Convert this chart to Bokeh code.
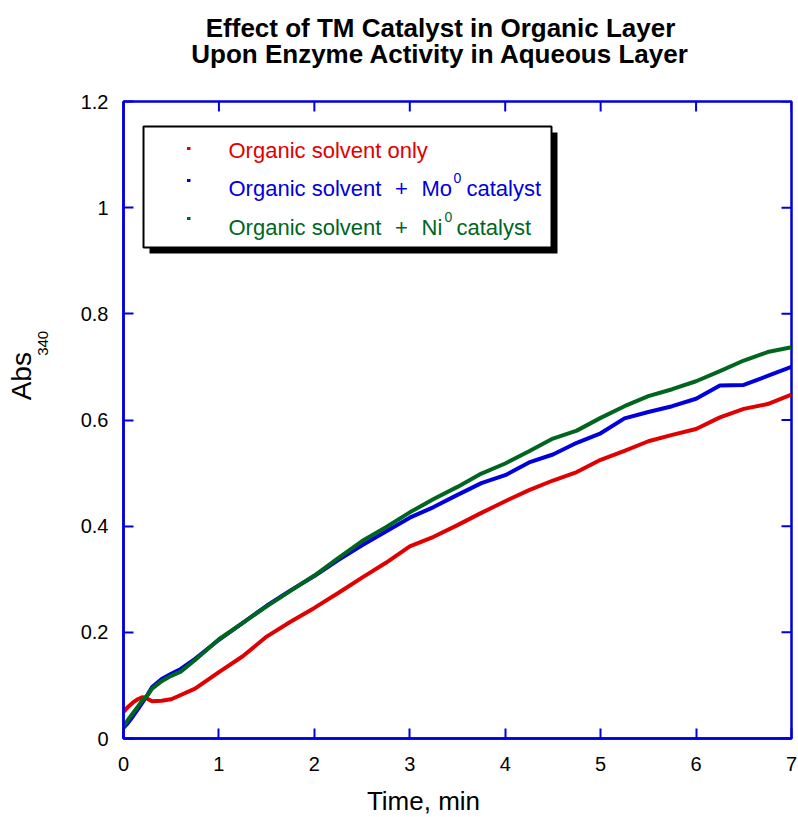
from math import pi
from bokeh.plotting import figure
from bokeh.layouts import column, row
from bokeh.models import (Range1d, LinearAxis, FixedTicker, NumeralTickFormatter,
                          Label, BoxAnnotation)
from bokeh.embed import file_html
from bokeh.resources import INLINE

# ---------------- data ----------------
time_min = [0, 0.05, 0.1, 0.15, 0.2, 0.25, 0.3, 0.4, 0.5, 0.6, 0.75, 1.0, 1.25, 1.5,
            1.75, 2.0, 2.25, 2.5, 2.75, 3.0, 3.25, 3.5, 3.75, 4.0, 4.25, 4.5, 4.75,
            5.0, 5.25, 5.5, 5.75, 6.0, 6.25, 6.5, 6.75, 7.0]
abs_organic_only = [0.050, 0.060, 0.068, 0.074, 0.078, 0.075, 0.070, 0.071, 0.074, 0.082,
                    0.094, 0.125, 0.155, 0.192, 0.220, 0.246, 0.274, 0.303, 0.331, 0.362,
                    0.380, 0.402, 0.425, 0.447, 0.468, 0.486, 0.502, 0.525, 0.542, 0.560,
                    0.572, 0.583, 0.605, 0.621, 0.630, 0.648]
abs_mo_catalyst = [0.020, 0.030, 0.042, 0.055, 0.068, 0.082, 0.097, 0.112, 0.122, 0.131,
                   0.150, 0.186, 0.218, 0.250, 0.279, 0.306, 0.336, 0.364, 0.390, 0.416,
                   0.436, 0.459, 0.481, 0.496, 0.520, 0.535, 0.557, 0.575, 0.603, 0.615,
                   0.626, 0.640, 0.665, 0.666, 0.683, 0.700]
abs_ni_catalyst = [0.022, 0.036, 0.048, 0.060, 0.072, 0.081, 0.094, 0.108, 0.118, 0.126,
                   0.148, 0.187, 0.218, 0.249, 0.278, 0.307, 0.340, 0.372, 0.398, 0.426,
                   0.451, 0.474, 0.499, 0.518, 0.541, 0.565, 0.580, 0.604, 0.626, 0.645,
                   0.658, 0.673, 0.692, 0.712, 0.728, 0.737]
x_ticks = [0, 1, 2, 3, 4, 5, 6, 7]
y_ticks = [0, 0.2, 0.4, 0.6, 0.8, 1.0, 1.2]
x_range = (0, 7)
y_range = (0, 1.2)
title_lines = ["Effect of TM Catalyst in Organic Layer", "Upon Enzyme Activity in Aqueous Layer"]
x_label = "Time, min"
y_label, y_label_sub = "Abs", "340"

# ---------------- style ----------------
RED, BLUE, GREEN = "#E00000", "#0000DD", "#00661F"
AXIS_BLUE = "#0000DD"
FONT = "Liberation Sans"

PAGE_W, PAGE_H = 798, 817
FL, FR, FT, FB = 123, 791, 101, 738      # plot frame edges on the page
TOP_H = 85                               # strip above the main figure (title)
LEFT_W = 60                              # strip left of the main figure (y label)
BOT_Y = 783                              # page y where the bottom strip starts
MAIN_W = PAGE_W - LEFT_W
MAIN_H = BOT_Y - TOP_H


def text_strip(width, height, page_x0, page_y0):
    """A blank svg figure whose data coordinates are page pixels (y negated)."""
    f = figure(width=width, height=height, output_backend="svg", toolbar_location=None,
               x_range=Range1d(page_x0, page_x0 + width),
               y_range=Range1d(-(page_y0 + height), -page_y0),
               x_axis_location=None, y_axis_location=None, min_border=0)
    f.outline_line_color = None
    f.grid.grid_line_color = None
    return f


def put(f, txt, px, py, size, color="black", align="center", style="normal", angle=0):
    f.add_layout(Label(x=px, y=-py, text=txt, text_font=FONT, text_font_size=size,
                       text_color=color, text_align=align, text_baseline="middle",
                       text_font_style=style, angle=angle))


# ---------------- title strip ----------------
top_fig = text_strip(PAGE_W, TOP_H, 0, 0)
put(top_fig, title_lines[0], 440, 27, "26px", style="bold")
put(top_fig, title_lines[1], 440, 53, "26px", style="bold")

# ---------------- y label strip ----------------
left_fig = text_strip(LEFT_W, MAIN_H, 0, TOP_H)
put(left_fig, y_label, 21, 386, "28px", angle=pi / 2)
put(left_fig, y_label_sub, 42, 350, "15px", angle=pi / 2)

# ---------------- x label strip ----------------
bot_fig = text_strip(PAGE_W, PAGE_H - BOT_Y, 0, BOT_Y)
put(bot_fig, x_label, 423, 800, "26px")

# ---------------- main plot ----------------
p = figure(width=MAIN_W, height=MAIN_H, output_backend="svg", toolbar_location=None,
           x_range=Range1d(*x_range), y_range=Range1d(*y_range),
           x_axis_location=None, y_axis_location=None,
           min_border_left=FL - LEFT_W, min_border_right=PAGE_W - FR,
           min_border_top=FT - TOP_H, min_border_bottom=BOT_Y - FB)
p.outline_line_color = AXIS_BLUE
p.outline_line_width = 2.5
p.outline_line_alpha = 1
p.grid.grid_line_color = None


def style_axis(ax, standoff):
    ax.axis_line_color = AXIS_BLUE
    ax.axis_line_width = 2.5
    ax.major_tick_line_color = AXIS_BLUE
    ax.major_tick_line_width = 2
    ax.major_tick_in = 10
    ax.major_tick_out = 0
    ax.minor_tick_line_color = None
    ax.formatter = NumeralTickFormatter(format="0.[0]")
    ax.major_label_text_font = FONT
    ax.major_label_text_font_size = "20px"
    ax.major_label_text_color = "black"
    ax.major_label_standoff = standoff


bottom = LinearAxis(ticker=FixedTicker(ticks=x_ticks))
style_axis(bottom, 18)
p.add_layout(bottom, "below")

left = LinearAxis(ticker=FixedTicker(ticks=y_ticks))
style_axis(left, 15)
p.add_layout(left, "left")

# inward ticks on the top and right frame edges
tick_len_y = 10 / (FB - FT) * (y_range[1] - y_range[0])
tick_len_x = 10 / (FR - FL) * (x_range[1] - x_range[0])
p.segment(x0=x_ticks, y0=[y_range[1]] * len(x_ticks), x1=x_ticks,
          y1=[y_range[1] - tick_len_y] * len(x_ticks), line_color=AXIS_BLUE, line_width=2)
p.segment(x0=[x_range[1]] * len(y_ticks), y0=y_ticks,
          x1=[x_range[1] - tick_len_x] * len(y_ticks), y1=y_ticks,
          line_color=AXIS_BLUE, line_width=2)

# data curves
for ys, c in [(abs_organic_only, RED), (abs_mo_catalyst, BLUE), (abs_ni_catalyst, GREEN)]:
    p.line(time_min, ys, line_color=c, line_width=4)


def dx(px):
    return x_range[0] + (px - FL) / (FR - FL) * (x_range[1] - x_range[0])


def dy(py):
    return y_range[0] + (FB - py) / (FB - FT) * (y_range[1] - y_range[0])


# legend box with drop shadow
p.add_layout(BoxAnnotation(left=dx(149), right=dx(557), top=dy(132), bottom=dy(253),
                           fill_color="black", fill_alpha=1, line_color=None))
p.add_layout(BoxAnnotation(left=dx(143), right=dx(551), top=dy(126), bottom=dy(247),
                           fill_color="white", fill_alpha=1, line_color="black",
                           line_alpha=1, line_width=2))

legend_colors = [RED, BLUE, GREEN]
marker_y = [148, 180, 218]
text_y = [150, 188, 227]
for c, my in zip(legend_colors, marker_y):
    p.add_layout(BoxAnnotation(left=dx(186.5), right=dx(190), top=dy(my - 1.5),
                               bottom=dy(my + 1.5), fill_color=c, fill_alpha=1,
                               line_color=None))


def label(txt, px, py, size, color, align="left"):
    p.add_layout(Label(x=dx(px), y=dy(py), text=txt, text_font=FONT, text_font_size=size,
                       text_color=color, text_align=align, text_baseline="middle"))


label("Organic solvent only", 228, text_y[0], "22px", RED)
label("Organic solvent", 228, text_y[1], "22px", BLUE)
label("+", 401, text_y[1], "22px", BLUE, align="center")
label("Mo", 421, text_y[1], "22px", BLUE)
label("0", 453, text_y[1] - 11, "14px", BLUE)
label("catalyst", 466, text_y[1], "22px", BLUE)
label("Organic solvent", 228, text_y[2], "22px", GREEN)
label("+", 401, text_y[2], "22px", GREEN, align="center")
label("Ni", 421, text_y[2], "22px", GREEN)
label("0", 444, text_y[2] - 11, "14px", GREEN)
label("catalyst", 456, text_y[2], "22px", GREEN)

layout = column(top_fig, row(left_fig, p, spacing=0), bot_fig, spacing=0)
open("out.html", "w").write(file_html(layout, INLINE))
